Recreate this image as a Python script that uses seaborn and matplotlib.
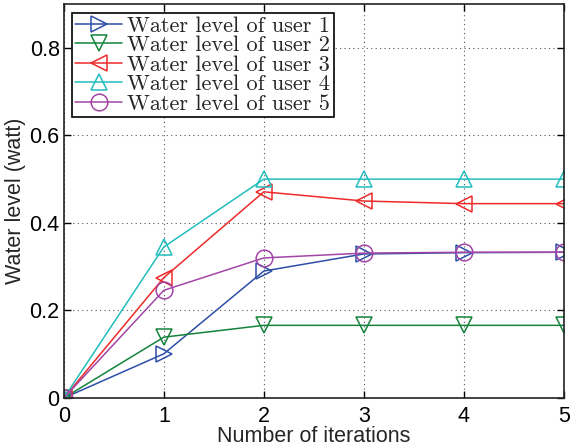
import numpy as np
import pandas as pd
import matplotlib
matplotlib.use("Agg")
import matplotlib.pyplot as plt
import seaborn as sns

iterations = [0, 1, 2, 3, 4, 5]
user1 = [0.0, 0.101, 0.290, 0.329, 0.332, 0.333]
user2 = [0.0, 0.139, 0.166, 0.166, 0.166, 0.166]
user3 = [0.0, 0.275, 0.471, 0.450, 0.444, 0.444]
user4 = [0.0, 0.345, 0.500, 0.500, 0.500, 0.500]
user5 = [0.0, 0.246, 0.320, 0.331, 0.333, 0.333]

labels = ["Water level of user 1", "Water level of user 2", "Water level of user 3",
          "Water level of user 4", "Water level of user 5"]
colors = ["#2e4ea8", "#14843c", "#ee2a2a", "#22bdbd", "#a245a6"]
markers = [">", "v", "<", "^", "o"]

sns.set_style("ticks")
plt.rcParams["font.family"] = ["Liberation Sans", "DejaVu Sans"]

fig = plt.figure(figsize=(5.7, 4.47), dpi=100)
ax = fig.add_axes([0.112, 0.1096, 0.877, 0.8814])

for vals, lab, c, m in zip([user1, user2, user3, user4, user5], labels, colors, markers):
    sns.lineplot(x=iterations, y=vals, ax=ax, color=c, marker=m, markersize=12,
                 markerfacecolor="none", markeredgecolor=c, markeredgewidth=1.1,
                 linewidth=1.1, label=lab)

ax.set_xlim(0, 5)
ax.set_ylim(0, 0.9)
ax.set_xticks(range(6))
ax.set_yticks([0, 0.2, 0.4, 0.6, 0.8])
ax.set_yticklabels(["0", "0.2", "0.4", "0.6", "0.8"])
ax.grid(True, linestyle=(0, (1, 3)), color="#555555", linewidth=0.8)
ax.tick_params(direction="in", length=5, width=1, labelsize=15.5, top=True, right=True,
               colors="black")
ax.tick_params(axis="x", pad=6)
ax.tick_params(axis="y", pad=3)
for s in ax.spines.values():
    s.set_linewidth(1.2)
    s.set_color("#222222")

ax.set_xlabel("Number of iterations", fontsize=15.5)
ax.set_ylabel("Water level (watt)", fontsize=15.5)
ax.xaxis.set_label_coords(0.5, -0.072)
ax.yaxis.set_label_coords(-0.075, 0.5)

leg = ax.legend(loc="upper left", bbox_to_anchor=(0.016, 0.978), borderaxespad=0,
                prop={"family": "cmr10", "size": 16}, fancybox=False,
                edgecolor="black", framealpha=1, labelspacing=0.0, borderpad=0.15,
                handlelength=2.1, handletextpad=0.25)
leg.get_frame().set_linewidth(1.2)

fig.savefig("out.png", dpi=100)
